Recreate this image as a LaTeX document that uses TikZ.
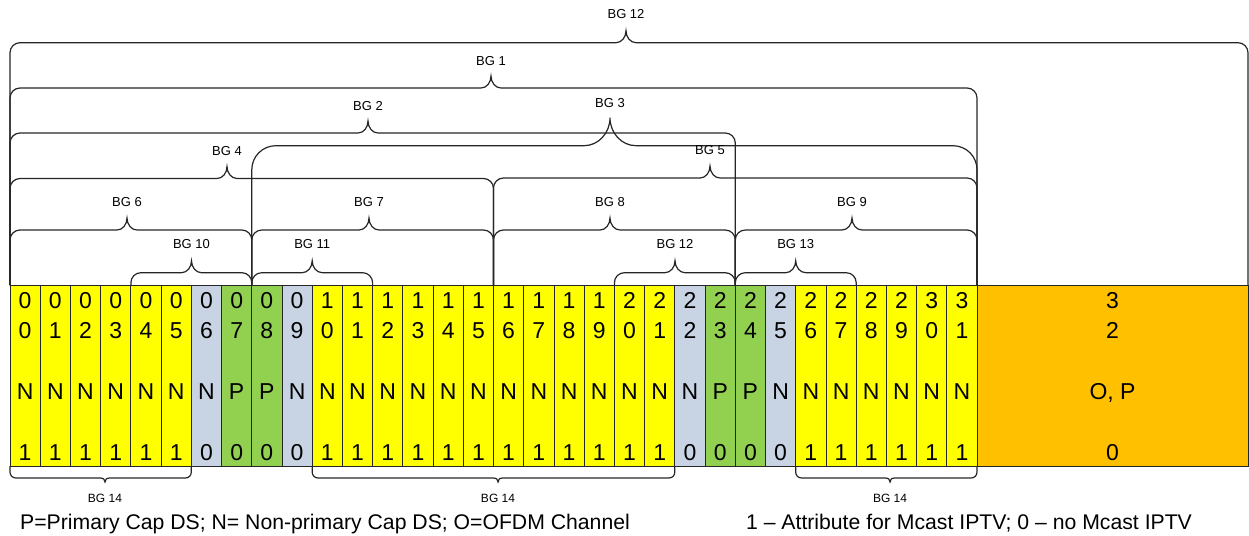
\documentclass[tikz,border=0pt]{standalone}
\usepackage{fontspec}
\setmainfont{Liberation Sans}
\definecolor{cy}{HTML}{FFFF00}
\definecolor{cb}{HTML}{C8D4E4}
\definecolor{cg}{HTML}{92D050}
\definecolor{co}{HTML}{FFC000}
\newcommand{\BGtop}[7]{% x1, x2, ybar, xtip, r, w, h
  \draw[bracestyle] (#1,285) -- (#1,{#3+#5})
    .. controls (#1,{#3+0.448*#5}) and ({#1+0.448*#5},#3) .. ({#1+#5},#3)
    -- ({#4-#6},#3)
    .. controls ({#4-0.448*#6},#3) and (#4,{#3-0.448*#7}) .. (#4,{#3-#7})
    .. controls (#4,{#3-0.448*#7}) and ({#4+0.448*#6},#3) .. ({#4+#6},#3)
    -- ({#2-#5},#3)
    .. controls ({#2-0.448*#5},#3) and (#2,{#3+0.448*#5}) .. (#2,{#3+#5})
    -- (#2,285);}
\newcommand{\BGbot}[3]{% x1, x2, xtip
  \draw[bracestyle] (#1,466) -- (#1,472)
    .. controls (#1,475.5) and ({#1+2.5},478) .. ({#1+6},478)
    -- ({#3-5},478)
    .. controls ({#3-1.5},478) and (#3,479.5) .. (#3,482)
    .. controls (#3,479.5) and ({#3+1.5},478) .. ({#3+5},478)
    -- ({#2-6},478)
    .. controls ({#2-2.5},478) and (#2,475.5) .. (#2,472)
    -- (#2,466);}
\begin{document}
\begin{tikzpicture}[x=1pt,y=-1pt,
  cell/.style={draw=black!85, line width=0.8pt, minimum width=30.22pt, minimum height=181pt, inner sep=0pt, outer sep=0pt},
  dig/.style={font=\fontsize{23}{23}\selectfont, anchor=base, inner sep=0pt},
  bgl/.style={font=\fontsize{13}{13}\selectfont, inner sep=0pt},
  bgb/.style={font=\fontsize{12}{12}\selectfont, inner sep=0pt},
  legend/.style={font=\fontsize{21.2}{21.2}\selectfont, inner sep=0pt, anchor=base},
  bracestyle/.style={draw=black!85, line width=1.2pt}]
\useasboundingbox (0,0) rectangle (1249,535);
% cells
\foreach \i/\col/\l/\v in {0/cy/N/1,1/cy/N/1,2/cy/N/1,3/cy/N/1,4/cy/N/1,5/cy/N/1,6/cb/N/0,7/cg/P/0,8/cg/P/0,9/cb/N/0,
  10/cy/N/1,11/cy/N/1,12/cy/N/1,13/cy/N/1,14/cy/N/1,15/cy/N/1,16/cy/N/1,17/cy/N/1,18/cy/N/1,19/cy/N/1,20/cy/N/1,21/cy/N/1,
  22/cb/N/0,23/cg/P/0,24/cg/P/0,25/cb/N/0,26/cy/N/1,27/cy/N/1,28/cy/N/1,29/cy/N/1,30/cy/N/1,31/cy/N/1}{
  \pgfmathsetmacro\cx{10+30.22*\i+15.11}
  \pgfmathtruncatemacro\ta{int(\i/10)}
  \pgfmathtruncatemacro\tb{mod(\i,10)}
  \node[cell, fill=\col] (c\i) at (\cx,375.5) {};
  \node[dig] (ta\i) at (\cx,308.3) {\ta};
  \node[dig] (tb\i) at (\cx,338.3) {\tb};
  \node[dig] (tl\i) at (\cx,399.5) {\l};
  \node[dig] (tv\i) at (\cx,460.8) {\v};
}
\node[cell, fill=co, minimum width=271pt] (ofdm) at (1112.5,375.5) {};
\node[dig] (oa) at (1112.5,308.3) {3};
\node[dig] (ob) at (1112.5,338.3) {2};
\node[dig] (ol) at (1112.5,399.5) {O, P};
\node[dig] (ov) at (1112.5,460.8) {0};
% top braces
\BGtop{10}{1248}{42.7}{626}{10}{10}{12}
\node[bgl] (l12a) at (626,14) {BG 12};
\BGtop{10}{977}{88}{491}{10}{10}{12}
\node[bgl] (l1) at (491,61) {BG 1};
\BGtop{10}{735.3}{133}{368}{10}{10}{12}
\node[bgl] (l2) at (368,106) {BG 2};
\BGtop{251.8}{977}{145.7}{610}{24}{26}{28}
\node[bgl] (l3) at (610,103) {BG 3};
\BGtop{10}{493.5}{178.5}{227}{10}{10}{12}
\node[bgl] (l4) at (227,151) {BG 4};
\BGtop{493.5}{977}{178}{710}{10}{10}{12}
\node[bgl] (l5) at (710,150) {BG 5};
\BGtop{10}{251.8}{230}{127}{10}{10}{12}
\node[bgl] (l6) at (127,202) {BG 6};
\BGtop{251.8}{493.5}{230}{369}{10}{10}{12}
\node[bgl] (l7) at (369,202) {BG 7};
\BGtop{493.5}{735.3}{230}{610}{10}{10}{12}
\node[bgl] (l8) at (610,202) {BG 8};
\BGtop{735.3}{977}{230}{852}{10}{10}{12}
\node[bgl] (l9) at (852,202) {BG 9};
\BGtop{130.9}{251.8}{272.7}{191.5}{10}{10}{12}
\node[bgl] (l10) at (191.5,244) {BG 10};
\BGtop{251.8}{372.6}{272.7}{312.2}{10}{10}{12}
\node[bgl] (l11) at (312.2,244) {BG 11};
\BGtop{614.4}{735.3}{272.7}{675}{10}{10}{12}
\node[bgl] (l12b) at (675,244) {BG 12};
\BGtop{735.3}{856.2}{272.7}{795.7}{10}{10}{12}
\node[bgl] (l13) at (795.7,244) {BG 13};
% bottom braces
\BGbot{10}{191.3}{105}
\node[bgb] (l14a) at (105,498) {BG 14};
\BGbot{312.2}{674.8}{498}
\node[bgb] (l14b) at (498,498) {BG 14};
\BGbot{795.7}{977}{890}
\node[bgb] (l14c) at (890,498) {BG 14};
% legends
\node[legend, anchor=base west] (leg1) at (20,529) {P=Primary Cap DS; N= Non-primary Cap DS; O=OFDM Channel};
\node[legend] (leg2) at (969,529) {1 – Attribute for Mcast IPTV; 0 – no Mcast IPTV};
\end{tikzpicture}
\end{document}
